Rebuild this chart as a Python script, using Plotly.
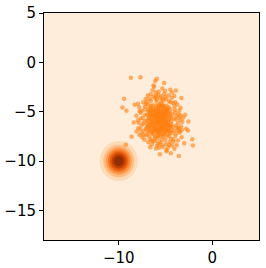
import numpy as np
import plotly.graph_objects as go

# ---- data ----
x_range = [-18, 5]
y_range = [-18, 5]
x_ticks = [-10, 0]
y_ticks = [-15, -10, -5, 0, 5]

# gaussian density blob (centre and spread)
blob_center = [-10.0, -10.0]
blob_sigma = 1.0
density_levels = [0.02, 0.14, 0.02]  # start, end, step
band_colors = ["#feedda", "#fedbb8", "#fdbf86", "#fd9d53", "#f77b27",
               "#e5590a", "#bf3f02", "#922e03"]

cloud_core_xy = [
    (-5.62,-5.81), (-5.31,-5.52), (-5.94,-6.13), (-5.08,-6.04), (-6.21,-5.47), (-5.77,-5.09),
    (-5.45,-6.42), (-6.05,-6.71), (-4.88,-5.33), (-6.47,-5.94), (-5.19,-4.87), (-5.86,-4.73),
    (-4.71,-6.29), (-6.33,-6.38), (-5.53,-7.02), (-4.95,-6.81), (-6.62,-5.21), (-5.37,-4.51),
    (-6.08,-5.02), (-4.59,-5.71), (-5.71,-6.55), (-6.81,-6.22), (-5.14,-5.73), (-5.99,-5.58),
    (-4.82,-4.96), (-6.28,-4.85), (-5.48,-5.28), (-5.83,-6.97), (-4.67,-6.63), (-6.54,-6.68),
    (-5.26,-6.31), (-6.17,-6.02), (-5.05,-5.16), (-5.68,-4.42), (-4.52,-5.24), (-6.73,-5.63),
    (-5.41,-6.86), (-6.39,-5.36), (-4.93,-6.47), (-5.89,-5.29), (-5.57,-6.18), (-6.02,-4.41),
    (-4.74,-5.51), (-5.21,-7.21), (-6.44,-7.05), (-5.11,-4.63), (-5.79,-7.32), (-4.61,-6.98),
    (-6.91,-5.79), (-5.34,-5.94), (-6.12,-5.79), (-5.73,-5.67), (-4.86,-6.12), (-6.26,-6.55),
    (-5.45,-4.99), (-5.98,-6.33), (-4.99,-5.87), (-6.58,-4.98), (-5.64,-6.85), (-4.41,-5.98),
    (-5.17,-6.62), (-6.36,-4.62), (-5.51,-4.21), (-4.77,-4.68), (-6.69,-6.47), (-5.92,-7.14),
    (-5.03,-7.06), (-4.48,-6.39), (-6.96,-6.61), (-5.28,-5.39), (-6.21,-5.21), (-5.59,-5.42),
    (-4.63,-5.04), (-5.86,-6.01), (-6.04,-4.98), (-5.36,-6.58), (-4.91,-4.37), (-6.51,-5.57),
    (-5.76,-4.91), (-5.13,-6.94), (-6.31,-7.28), (-4.57,-7.21), (-5.66,-5.22), (-6.86,-4.95),
    (-5.42,-7.47), (-4.39,-6.71), (-6.15,-6.86), (-5.01,-4.82), (-5.89,-5.45), (-6.42,-6.12),
    (-4.72,-5.86), (-5.24,-5.07), (-6.63,-4.63), (-5.55,-6.71), (-4.83,-7.42), (-6.09,-7.52),
    (-5.31,-4.31), (-6.76,-7.01), (-5.95,-3.97), (-4.45,-4.81),
    (-5.50,-5.65), (-5.80,-5.95), (-5.25,-6.15), (-6.00,-5.30), (-5.40,-5.85), (-6.30,-5.70),
    (-5.15,-5.45), (-5.70,-6.30), (-6.10,-6.45), (-4.95,-5.60), (-5.60,-4.75), (-6.40,-5.10),
    (-5.00,-6.35), (-6.55,-6.30), (-5.35,-6.75), (-5.90,-4.60), (-4.80,-5.15), (-6.20,-6.95),
    (-5.65,-7.15), (-4.70,-6.05), (-6.75,-5.40), (-5.20,-4.40), (-5.85,-6.65), (-6.65,-6.85),
    (-4.60,-6.50), (-5.45,-7.30), (-6.35,-4.35), (-4.55,-5.45), (-5.95,-5.15), (-5.10,-6.00),
    (-6.15,-5.95), (-5.30,-5.20), (-5.75,-5.55), (-4.85,-6.90), (-6.50,-6.05), (-5.55,-4.55),
    (-6.85,-6.45), (-5.05,-7.25), (-6.05,-4.75), (-4.40,-5.60), (-5.65,-6.05), (-5.85,-5.70),
    (-5.40,-6.45), (-6.25,-5.40), (-5.00,-5.00), (-4.75,-6.75), (-6.45,-7.20), (-5.25,-4.70),
    (-6.70,-5.00), (-5.80,-7.45), (-4.65,-4.55), (-6.95,-5.95), (-5.15,-6.55), (-6.10,-6.20),
    (-5.50,-5.05), (-4.90,-6.25), (-6.30,-6.75), (-5.70,-4.30), (-4.50,-7.00), (-6.60,-5.75),
    (-5.35,-5.70), (-5.90,-6.85), (-5.05,-5.35), (-6.40,-4.80), (-5.60,-6.95), (-4.85,-4.80),
    (-6.15,-7.65), (-5.20,-7.55), (-6.90,-7.25), (-4.35,-6.25), (-5.45,-3.95), (-6.55,-4.40),
    (-4.25,-5.25), (-5.75,-7.70), (-6.80,-4.70), (-4.60,-7.50), (-5.30,-3.70), (-6.95,-6.90),
    (-4.20,-6.55), (-5.95,-3.75),
]

cloud_mid_xy = [
    (-7.43,-5.62), (-7.21,-4.78), (-7.58,-6.41), (-7.05,-7.38), (-7.66,-5.11), (-7.31,-6.93),
    (-7.82,-4.52), (-7.12,-4.21), (-7.49,-7.62), (-7.95,-5.87), (-3.82,-5.43), (-3.64,-6.12),
    (-4.05,-4.46), (-3.71,-6.84), (-3.95,-7.46), (-3.41,-5.78), (-4.18,-7.81), (-3.52,-4.89),
    (-4.21,-4.12), (-3.33,-6.47), (-6.12,-3.61), (-5.48,-3.42), (-6.55,-3.88), (-4.91,-3.71),
    (-5.83,-3.28), (-6.84,-4.25), (-4.62,-3.95), (-5.21,-3.87), (-6.31,-3.45), (-4.35,-3.58),
    (-5.61,-8.11), (-6.28,-8.03), (-4.97,-8.27), (-5.91,-8.46), (-4.55,-8.08), (-6.62,-7.82),
    (-5.24,-8.55), (-4.73,-8.61), (-6.07,-7.91), (-5.39,-7.89), (-7.27,-5.96), (-7.01,-6.26),
    (-3.88,-6.41), (-4.11,-5.72), (-3.97,-5.07), (-6.97,-5.33), (-4.29,-7.14), (-6.73,-7.56),
    (-4.08,-6.92), (-7.19,-4.48), (-3.59,-5.21), (-7.69,-6.77), (-3.46,-7.12), (-4.42,-7.73),
    (-6.46,-8.32), (-5.14,-3.18), (-7.38,-4.05), (-3.75,-4.27), (-6.02,-8.74), (-4.88,-8.88),
    (-7.88,-6.12), (-3.21,-6.02), (-4.66,-3.34), (-6.58,-3.24), (-5.73,-2.98), (-7.55,-7.15),
    (-3.28,-7.58), (-4.31,-8.43), (-7.77,-4.93), (-3.55,-6.65), (-5.02,-2.91), (-6.38,-2.83),
    (-4.06,-3.42), (-7.12,-3.72), (-3.36,-5.38), (-8.12,-5.42), (-7.92,-6.68), (-4.48,-2.77),
    (-6.21,-2.47), (-3.68,-7.92),
    (-7.20,-5.30), (-7.40,-6.20), (-7.10,-6.70), (-7.55,-4.90), (-7.35,-7.35), (-3.90,-5.80),
    (-3.75,-6.60), (-4.00,-4.80), (-3.85,-7.20), (-3.60,-5.60), (-6.00,-3.40), (-5.60,-3.55),
    (-6.70,-3.70), (-5.05,-3.50), (-4.45,-4.05), (-5.80,-8.25), (-5.40,-8.35), (-6.45,-7.95),
    (-5.00,-7.85), (-4.60,-8.35), (-7.00,-4.00), (-3.95,-4.05), (-7.65,-5.70), (-3.50,-6.95),
    (-4.15,-8.05), (-6.85,-8.10), (-7.80,-7.35), (-3.25,-6.85), (-4.30,-3.05), (-6.05,-3.05),
    (-7.25,-7.85), (-3.40,-4.60), (-5.35,-2.65), (-6.90,-3.35), (-4.05,-8.75), (-5.65,-8.65),
    (-7.95,-4.20), (-3.10,-5.60), (-6.65,-8.60), (-3.80,-8.40),
]

cloud_outlier_xy = [
    (-8.71,-1.57), (-7.68,-1.51), (-5.93,-1.67), (-6.10,-1.88), (-6.29,-2.35), (-5.14,-2.08),
    (-9.43,-3.70), (-9.61,-4.57), (-9.18,-4.91), (-9.25,-8.35), (-8.64,-7.54), (-3.89,-2.85),
    (-2.14,-7.78), (-2.07,-8.42), (-3.57,-9.49), (-4.43,-9.22), (-2.79,-6.73), (-2.55,-6.00),
    (-2.90,-5.30), (-8.30,-4.30), (-8.40,-6.10), (-3.30,-3.60), (-4.90,-9.00), (-5.60,-9.30),
    (-8.10,-7.00), (-2.60,-6.90), (-3.00,-8.20),
]

# ---- build ----
gx = np.linspace(x_range[0], x_range[1], 461)
gy = np.linspace(y_range[0], y_range[1], 461)
GX, GY = np.meshgrid(gx, gy)
r2 = (GX - blob_center[0]) ** 2 + (GY - blob_center[1]) ** 2
Z = np.exp(-r2 / (2 * blob_sigma ** 2)) / (2 * np.pi * blob_sigma ** 2)

n = len(band_colors)
colorscale = [[i / (n - 1), c] for i, c in enumerate(band_colors)]

all_pts = cloud_core_xy + cloud_mid_xy + cloud_outlier_xy
cx = [p[0] for p in all_pts]
cy = [p[1] for p in all_pts]

fig = go.Figure()
fig.add_trace(go.Contour(
    x=gx, y=gy, z=Z,
    colorscale=colorscale, showscale=False,
    contours=dict(start=density_levels[0], end=density_levels[1], size=density_levels[2],
                  coloring="fill", showlines=False),
    line=dict(width=0),
    hoverinfo="skip",
))
fig.add_trace(go.Scatter(
    x=cx, y=cy, mode="markers",
    marker=dict(size=4.5, color="rgba(255,127,14,0.6)", line=dict(width=0)),
    hoverinfo="skip",
))

axis_common = dict(
    showgrid=False, zeroline=False, showline=True, mirror=True,
    linecolor="black", linewidth=1, automargin=False,
    ticks="outside", ticklen=4, tickwidth=1, tickcolor="black",
    tickfont=dict(family="DejaVu Sans", size=15, color="black"),
)
fig.update_xaxes(range=x_range, tickvals=x_ticks, **axis_common)
fig.update_yaxes(range=y_range, tickvals=y_ticks, **axis_common)

fig.update_layout(
    width=266, height=268,
    margin=dict(l=44, r=7, t=13, b=28),
    paper_bgcolor="white", plot_bgcolor="white",
    showlegend=False,
    hovermode=False,
    font=dict(family="DejaVu Sans", size=15, color="black"),
)

fig.write_html(
    "out.html",
    config={"displayModeBar": False, "displaylogo": False, "staticPlot": True},
    post_script="document.body.style.margin='0';document.body.style.overflow='hidden';",
)
